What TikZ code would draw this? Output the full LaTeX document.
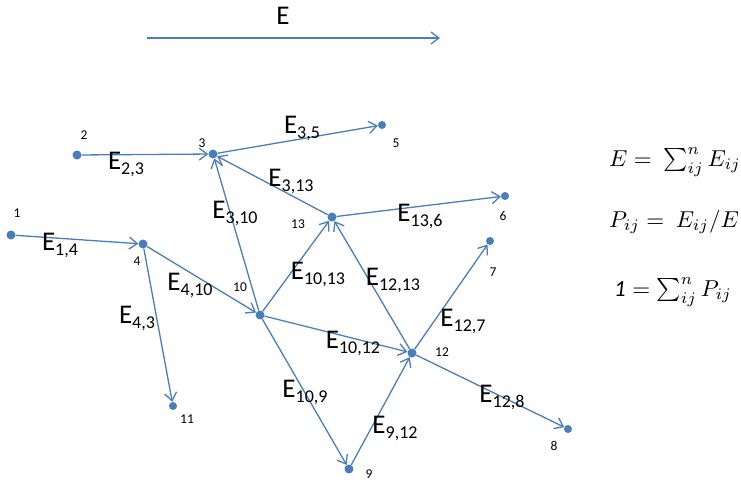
\documentclass[tikz,border=0pt]{standalone}
\usepackage{fontspec}
\setmainfont{Carlito}
\usetikzlibrary{arrows.meta}
\definecolor{lineblue}{HTML}{4A7EBB}
\definecolor{dotblue}{HTML}{4A7EBB}
\newcommand\El[1]{E\raisebox{-5pt}{\fontsize{18}{18}\selectfont #1}}
\newcommand\Frm[1]{\scalebox{2.3}{$#1$}}
\begin{document}
\begin{tikzpicture}[x=1pt,y=-1pt,
  dot/.style={circle,fill=dotblue,inner sep=0pt,minimum size=9pt},
  edge/.style={draw=lineblue,line width=1.3pt,-{Straight Barb[length=8pt,width=12pt]}},
  num/.style={font=\fontsize{13.5}{13.5}\selectfont,text=black,inner sep=0pt},
  elab/.style={font=\fontsize{27}{27}\selectfont,inner sep=0pt},
  frm/.style={inner sep=0pt},
]
\useasboundingbox (0,0) rectangle (741,482);
% top arrow
\coordinate (ta) at (147,38);
\coordinate (tb) at (440,38);
\draw[edge] (ta) -- (tb);
\node[elab] (tE) at (283,16) {E};
% dots
\node[dot] (n1) at (11,235) {};
\node[dot] (n2) at (77,155) {};
\node[dot] (n3) at (213,154) {};
\node[dot] (n4) at (143,244) {};
\node[dot,minimum size=8pt] (n5) at (382,125) {};
\node[dot,minimum size=8pt] (n6) at (505,196) {};
\node[dot,minimum size=8pt] (n7) at (490,241) {};
\node[dot,minimum size=8pt] (n8) at (568,429) {};
\node[dot] (n9) at (349,469) {};
\node[dot] (n10) at (260,315) {};
\node[dot,minimum size=8pt] (n11) at (173,406) {};
\node[dot] (n12) at (412,353) {};
\node[dot] (n13) at (332,217) {};
% numbers
\node[num] (l1) at (17,213) {1};
\node[num] (l2) at (84,135) {2};
\node[num] (l3) at (202,143) {3};
\node[num] (l4) at (137,261) {4};
\node[num] (l5) at (396,143) {5};
\node[num] (l6) at (503,216) {6};
\node[num] (l7) at (493,272) {7};
\node[num] (l8) at (554,446) {8};
\node[num] (l9) at (369,474) {9};
\node[num] (l10) at (240,287) {10};
\node[num] (l11) at (187,419) {11};
\node[num] (l12) at (442,352) {12};
\node[num] (l13) at (298,224) {13};
% edges
\draw[edge] (n1) -- (n4);
\draw[edge] (n2) -- (n3);
\draw[edge] (n3) -- (n5);
\draw[edge] (n13) -- (n3);
\draw[edge] (n10) -- (n3);
\draw[edge] (n13) -- (n6);
\draw[edge] (n4) -- (n10);
\draw[edge] (n4) -- (n11);
\draw[edge] (n10) -- (n13);
\draw[edge] (n12) -- (n13);
\draw[edge] (n10) -- (n12);
\draw[edge] (n10) -- (n9);
\draw[edge] (n9) -- (n12);
\draw[edge] (n12) -- (n7);
\draw[edge] (n12) -- (n8);
% edge labels
\node[elab] (e23) at (126,164) {\El{2,3}};
\node[elab] (e14) at (60,245) {\El{1,4}};
\node[elab] (e35) at (302,128) {\El{3,5}};
\node[elab] (e313) at (291,181) {\El{3,13}};
\node[elab] (e310) at (235,213) {\El{3,10}};
\node[elab] (e136) at (420,216) {\El{13,6}};
\node[elab] (e410) at (190,285) {\El{4,10}};
\node[elab] (e43) at (137,318) {\El{4,3}};
\node[elab] (e1013) at (318,274) {\El{10,13}};
\node[elab] (e1213) at (393,280) {\El{12,13}};
\node[elab] (e127) at (463,321) {\El{12,7}};
\node[elab] (e1012) at (353,343) {\El{10,12}};
\node[elab] (e109) at (305,392) {\El{10,9}};
\node[elab] (e912) at (395,428) {\El{9,12}};
\node[elab] (e128) at (502,397) {\El{12,8}};
% formulas
\node[frm] (f1) at (675,162) {\Frm{E=\ \sum_{ij}^{n} E_{ij}}};
\node[frm] (f2) at (674,222) {\Frm{P_{ij}=\ E_{ij}/E}};
\node[frm] (f3) at (673,292) {\Frm{\mathit{1}=\sum_{ij}^{n} P_{ij}}};
\end{tikzpicture}
\end{document}
